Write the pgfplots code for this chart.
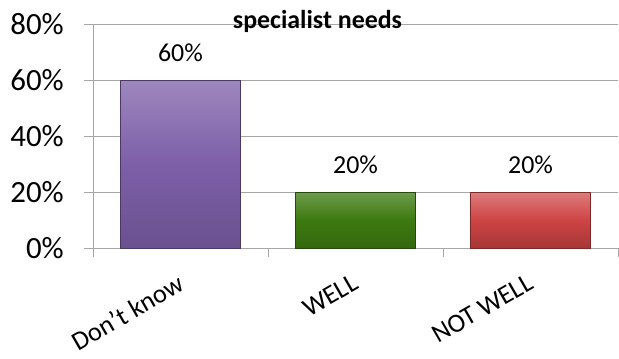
\documentclass[border=0pt]{standalone}
\usepackage{pgfplots}
\pgfplotsset{compat=1.18}
\usepackage{fontspec}
\setmainfont{Carlito}
\definecolor{barpurple}{HTML}{7D5FA8}
\definecolor{bargreen}{HTML}{3D7A10}
\definecolor{barred}{HTML}{CF4444}
\definecolor{gridgray}{HTML}{A6A6A6}
\begin{document}
\begin{tikzpicture}[x=1bp,y=1bp]
\useasboundingbox (0,0) rectangle (619,358);
\begin{axis}[
  at={(93bp,110bp)}, anchor=south west,
  scale only axis, width=525bp, height=224bp,
  xmin=-0.5, xmax=2.5, ymin=0, ymax=80,
  axis x line*=bottom, axis y line*=left,
  axis line style={gridgray, line width=1pt},
  /pgf/number format/assume math mode=true,
  ytick={0,20,40,60,80},
  yticklabels={0\%,20\%,40\%,60\%,80\%},
  ymajorgrids, grid style={gridgray, line width=1pt},
  xtick={-0.5,0.5,1.5,2.5},
  xticklabels={},
  extra x ticks={0,1,2},
  extra x tick labels={Don't know,WELL,NOT WELL},
  extra x tick style={major tick length=0pt, tick label style={inner sep=0pt, xshift=-4bp, yshift=-25bp, rotate=30, anchor=north east, font=\fontsize{26.5}{29}\selectfont}},
  tick style={gridgray, line width=1pt},
  major tick length=9bp,
  tick align=outside,
  yticklabel style={inner sep=0pt, font=\fontsize{31}{33}\selectfont, xshift=-20bp, anchor=east},
  ybar, bar width=120bp, bar shift=0pt,
  nodes near coords={\pgfmathprintnumber{\pgfplotspointmeta}\%},
  nodes near coords style={inner sep=0pt, anchor=south, font=\fontsize{26}{28}\selectfont, black, yshift=18bp},
  clip=false,
]
\addplot[draw=barpurple!60!black, top color=barpurple!75!white, bottom color=barpurple!85!black, middle color=barpurple] coordinates {(0,60)};
\addplot[draw=bargreen!60!black, top color=bargreen!75!white, bottom color=bargreen!85!black, middle color=bargreen] coordinates {(1,20)};
\addplot[draw=barred!60!black, top color=barred!70!white, bottom color=barred!80!black, middle color=barred] coordinates {(2,20)};
\end{axis}
\node[font=\bfseries\fontsize{26}{28}\selectfont, anchor=base, inner sep=0pt] at (317.5,330) {specialist needs};
\end{tikzpicture}
\end{document}
